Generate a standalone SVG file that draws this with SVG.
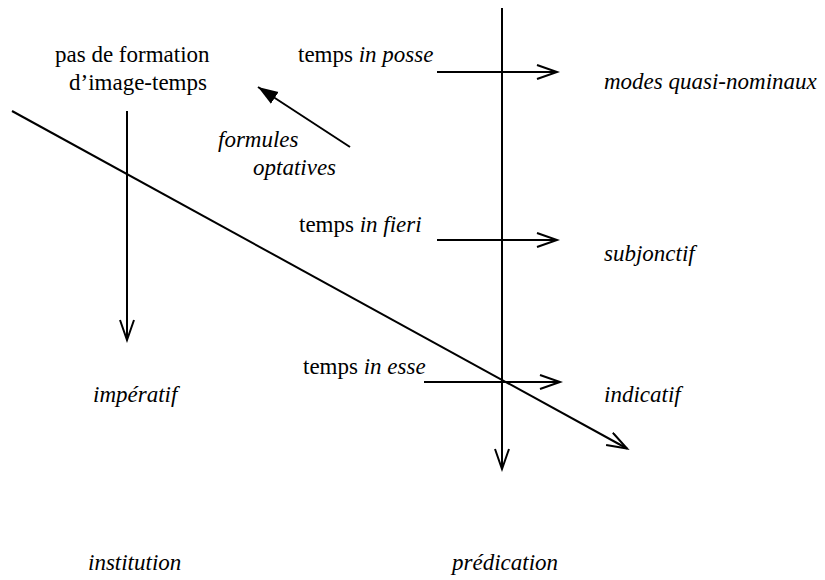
<svg xmlns="http://www.w3.org/2000/svg" width="825" height="580" viewBox="0 0 825 580">
<defs>
<style>
text{font-family:"Liberation Serif","Times New Roman",serif;font-size:23px;fill:#000}
.it{font-style:italic}
.ln{stroke:#000;stroke-width:2;fill:none}
</style>
<marker id="open" markerUnits="userSpaceOnUse" markerWidth="24" markerHeight="18" refX="21" refY="8" orient="auto">
<path d="M1,1 L21,8 L1,15" fill="none" stroke="#000" stroke-width="2"/>
</marker>
<marker id="filled" markerUnits="userSpaceOnUse" markerWidth="24" markerHeight="16" refX="20" refY="7" orient="auto">
<path d="M0,0 L20,7 L0,14 z" fill="#000"/>
</marker>
</defs>
<rect width="825" height="580" fill="#fff"/>
<g id="connectors">
<line class="ln" x1="502" y1="8" x2="502" y2="469" marker-end="url(#open)"/>
<line class="ln" x1="127" y1="111" x2="127" y2="340" marker-end="url(#open)"/>
<line class="ln" x1="12" y1="111" x2="627" y2="448.5" marker-end="url(#open)"/>
<line class="ln" x1="437" y1="72" x2="557" y2="72" marker-end="url(#open)"/>
<line class="ln" x1="437" y1="240" x2="557" y2="240" marker-end="url(#open)"/>
<line class="ln" x1="424" y1="382" x2="560" y2="382" marker-end="url(#open)"/>
<line class="ln" x1="350" y1="147" x2="258" y2="87" marker-end="url(#filled)"/>
</g>
<g id="pas-formation"><text x="55" y="62">pas de formation</text><text x="69" y="90">d’image-temps</text></g>
<g id="temps-posse"><text x="298" y="62">temps <tspan class="it">in posse</tspan></text></g>
<g id="modes"><text class="it" x="604" y="89">modes quasi-nominaux</text></g>
<g id="formules"><text class="it" x="218" y="147">formules</text><text class="it" x="253" y="175">optatives</text></g>
<g id="temps-fieri"><text x="299" y="232">temps <tspan class="it">in fieri</tspan></text></g>
<g id="subjonctif"><text class="it" x="604" y="261">subjonctif</text></g>
<g id="temps-esse"><text x="303" y="374">temps <tspan class="it">in esse</tspan></text></g>
<g id="indicatif"><text class="it" x="604" y="402">indicatif</text></g>
<g id="imperatif"><text class="it" x="93" y="402">impératif</text></g>
<g id="institution"><text class="it" x="88" y="570">institution</text></g>
<g id="predication"><text class="it" x="452" y="570">prédication</text></g>
</svg>
